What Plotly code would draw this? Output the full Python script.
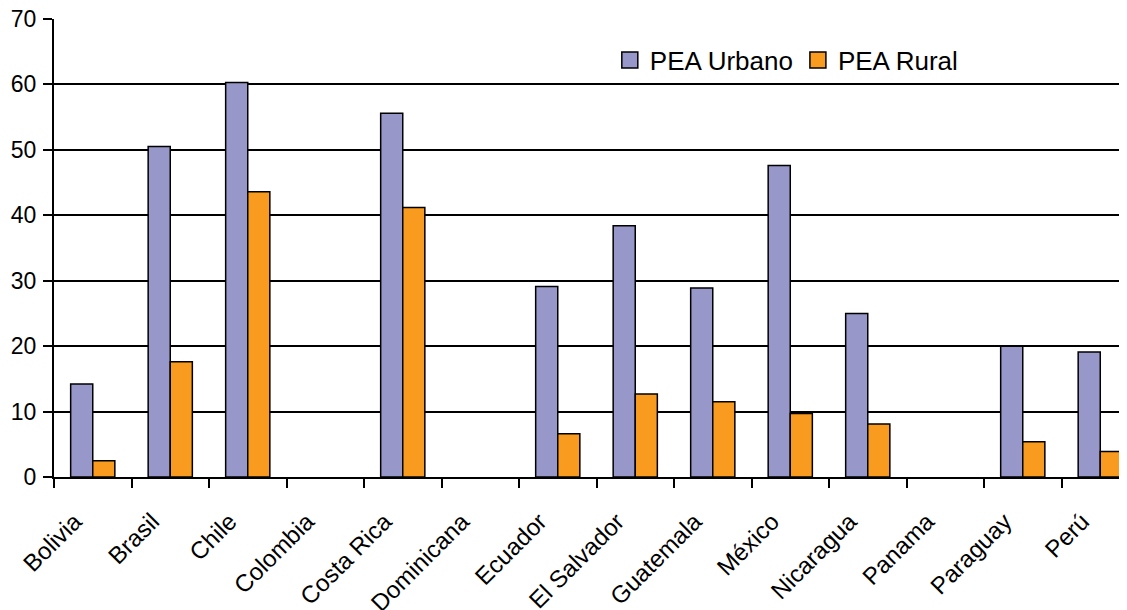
import plotly.graph_objects as go

paises = ["Bolivia", "Brasil", "Chile", "Colombia", "Costa Rica", "Dominicana", "Ecuador",
          "El Salvador", "Guatemala", "México", "Nicaragua", "Panama", "Paraguay", "Perú"]
pea_urbano = [14.2, 50.5, 60.3, None, 55.6, None, 29.1, 38.4, 28.9, 47.6, 25.0, None, 20.0, 19.1]
pea_rural = [2.5, 17.6, 43.6, None, 41.2, None, 6.6, 12.7, 11.5, 9.7, 8.1, None, 5.4, 3.9]
y_ticks = [0, 10, 20, 30, 40, 50, 60, 70]

FONT = "Liberation Sans, Arial, sans-serif"
C_URB = "#9797C9"
C_RUR = "#F99B1F"

fig = go.Figure()
fig.add_trace(go.Bar(name="PEA Urbano", x=paises, y=pea_urbano, showlegend=False,
                     marker=dict(color=C_URB, line=dict(color="#000000", width=1.5))))
fig.add_trace(go.Bar(name="PEA Rural", x=paises, y=pea_rural, showlegend=False,
                     marker=dict(color=C_RUR, line=dict(color="#000000", width=1.5))))
# legend entries with larger square swatches
for nm, col in [("PEA Urbano", C_URB), ("PEA Rural", C_RUR)]:
    fig.add_trace(go.Scatter(name=nm, x=[None], y=[None], mode="markers",
                             marker=dict(symbol="square", size=18, color=col,
                                         line=dict(color="black", width=1.5))))

fig.update_layout(
    width=1119, height=602,
    margin=dict(l=46, r=0, t=11, b=133),
    paper_bgcolor="white", plot_bgcolor="white",
    barmode="group", bargap=0.43, bargroupgap=0,
    font=dict(family=FONT, color="black"),
    showlegend=True,
    legend=dict(orientation="h", x=0.518, y=0.91, xanchor="left", yanchor="middle",
                font=dict(size=26, family=FONT), bgcolor="rgba(0,0,0,0)", traceorder="normal"),
    xaxis=dict(range=[-0.5, 13.345], tickangle=-45, tickfont=dict(size=24, family=FONT),
               showline=True, linecolor="black", linewidth=2, automargin=False,
               ticks="outside", tickson="boundaries", ticklen=9, tickwidth=2, tickcolor="black",
               ticklabelshift=-18, ticklabelstandoff=19, ticklabeloverflow="allow",
               showgrid=False),
    yaxis=dict(range=[0, 70], tickvals=y_ticks, tickfont=dict(size=23, family=FONT),
               showline=True, linecolor="black", linewidth=2, automargin=False,
               ticks="outside", ticklen=9, tickwidth=2, tickcolor="black",
               ticklabelstandoff=2, ticklabeloverflow="allow",
               showgrid=True, gridcolor="black", gridwidth=2, zeroline=False),
)

fig.write_html("out.html")
